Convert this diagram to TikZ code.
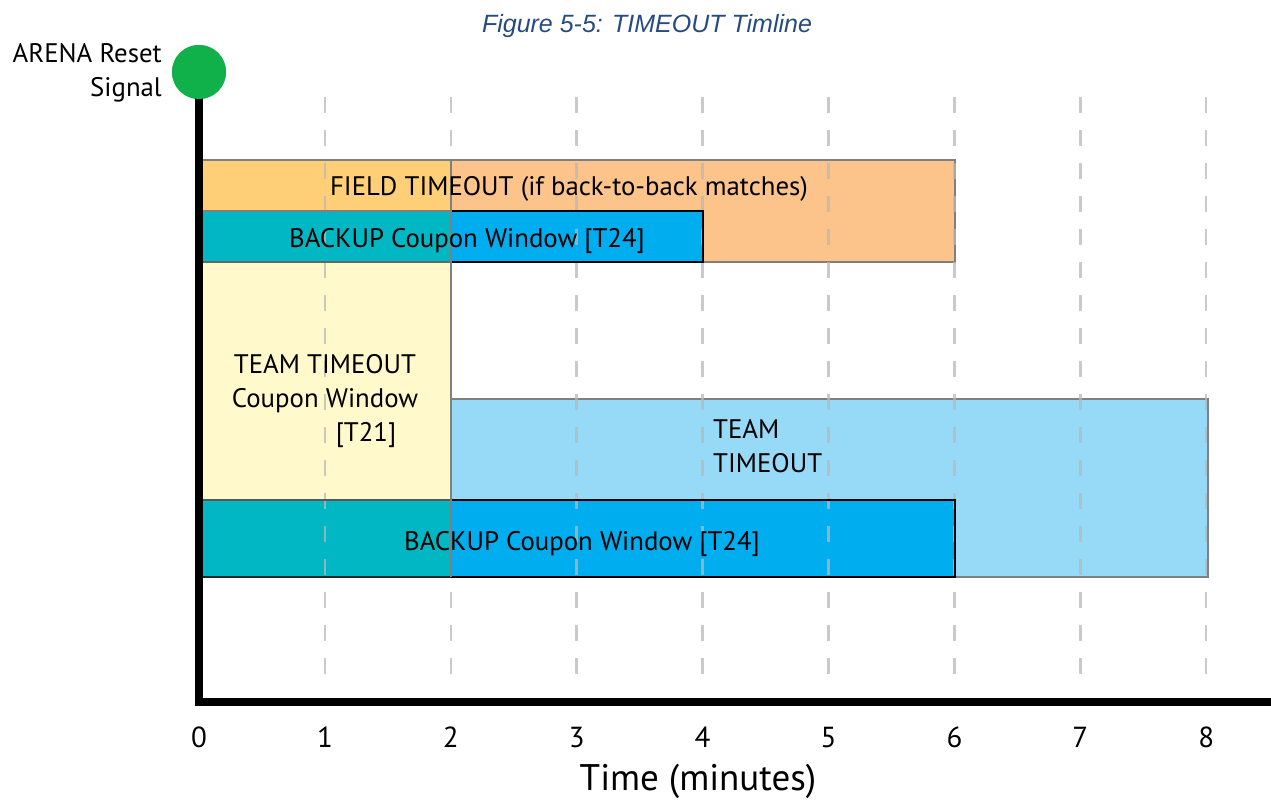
\documentclass[tikz,border=0pt]{standalone}
\usepackage{fontspec}
\setmainfont{PT Sans}
\newfontfamily\titlefont{Liberation Sans}
\definecolor{orangeC}{HTML}{FCC48B}
\definecolor{orangeY}{HTML}{FECF77}
\definecolor{blueC}{HTML}{00AEEF}
\definecolor{tealC}{HTML}{00B7C3}
\definecolor{yellowC}{HTML}{FFF9CC}
\definecolor{lblueC}{HTML}{97DAF7}
\definecolor{greenC}{HTML}{10B04A}
\definecolor{titleC}{HTML}{264B7E}
\definecolor{gridC}{HTML}{B8B8B8}
\definecolor{edgeC}{HTML}{7F7F7F}
\tikzset{
  graybar/.style={draw=edgeC, line width=2pt},
  blueedge/.style={draw=black, line width=2.5pt},
  gridline/.style={draw=gridC, line width=2.5pt, dash pattern=on 16pt off 17pt, opacity=0.75},
  axisline/.style={draw=black, line width=8.5pt, line join=miter},
  txt/.style={inner sep=0pt, anchor=base, font=\fontsize{26.8}{31}\selectfont},
  txtl/.style={txt, anchor=base west},
  txtr/.style={txt, anchor=base east},
  tick/.style={inner sep=0pt, anchor=base, font=\fontsize{29}{32}\selectfont},
}
\begin{document}
\begin{tikzpicture}[x=1pt,y=-1pt]
\useasboundingbox (0,0) rectangle (1271,800);
% title
\node[inner sep=0pt, anchor=base, text=titleC, font=\titlefont\itshape\fontsize{25}{29}\selectfont] (title) at (647,33) {Figure 5-5: TIMEOUT Timline};
% bars
\draw[graybar, fill=orangeC] (201,160) rectangle (955,262);
\draw[graybar, fill=lblueC] (451,399) rectangle (1208,577);
\fill[blueC] (201,211) rectangle (703,262);
\fill[blueC] (201,500) rectangle (955,577);
% overlap with team timeout coupon window (0-2 min)
\fill[orangeY] (201,160) rectangle (451,211);
\fill[tealC] (201,211) rectangle (451,262);
\fill[yellowC] (201,262) rectangle (451,500);
\fill[tealC] (201,500) rectangle (451,577);
% grid lines
\foreach \i in {1,...,8} {
  \draw[gridline] ({199+125.9*\i},97) -- ({199+125.9*\i},687);
}
% borders
\draw[blueedge] (451,211) -- (703,211) -- (703,262) -- (451,262);
\draw[blueedge] (451,500) -- (955,500) -- (955,577) -- (451,577);
\draw[draw=edgeC, line width=2pt] (201,160) -- (451,160);
\draw[draw=edgeC, line width=2pt] (201,211) -- (451,211);
\draw[draw=edgeC!80!black, line width=2.5pt] (201,262) -- (451,262);
\draw[draw=edgeC!70!black, line width=2.5pt] (201,500) -- (451,500);
\draw[draw=black!85, line width=2.5pt] (201,577) -- (451,577);
\draw[draw=edgeC, line width=2pt] (451,160) -- (451,577);
% texts in bars
\node[txt] (field) at (569,195) {FIELD TIMEOUT (if back-to-back matches)};
\node[txt] (backup1) at (467,247) {BACKUP Coupon Window [T24]};
\node[txt] (tt1) at (325,373) {TEAM TIMEOUT};
\node[txt] (tt2) at (325,407) {Coupon Window};
\node[txt] (tt3) at (366,441) {[T21]};
\node[txtl] (team1) at (713,438) {TEAM};
\node[txtl] (team2) at (713,472) {TIMEOUT};
\node[txt] (backup2) at (582,550) {BACKUP Coupon Window [T24]};
% axes
\coordinate (origin) at (199,702);
\coordinate (xend) at (1275,702);
\node[circle, fill=greenC, minimum size=54pt, inner sep=0pt] (sig) at (199,72) {};
\draw[axisline] (sig.center) -- (origin) -- (xend);
\node[circle, fill=greenC, minimum size=54pt, inner sep=0pt] (sigtop) at (199,72) {};
\node[txtr] (arena1) at (162,63) {ARENA Reset};
\node[txtr] (arena2) at (162,96) {Signal};
\foreach \i in {0,...,8} {
  \node[tick] (t\i) at ({199+125.9*\i},747) {\i};
}
\node[inner sep=0pt, anchor=base, font=\fontsize{37}{42}\selectfont] (xlabel) at (698,790) {Time (minutes)};
\end{tikzpicture}
\end{document}
